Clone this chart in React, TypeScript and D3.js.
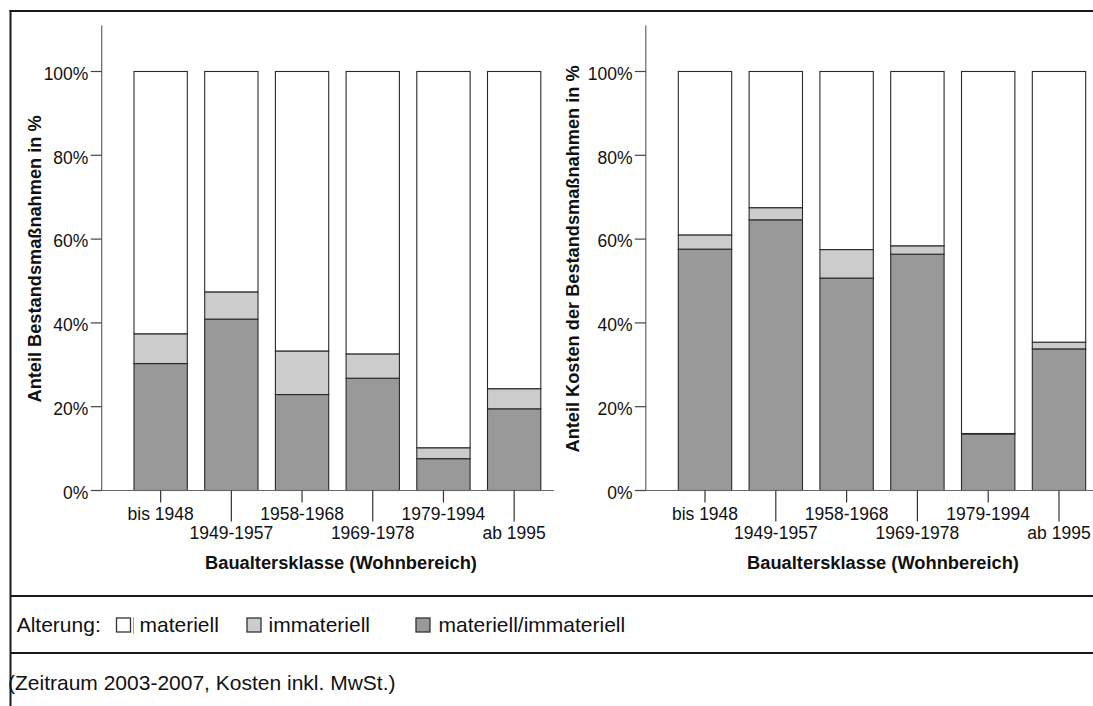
import React from 'react';
import * as d3 from 'd3';

const categories = ['bis 1948', '1949-1957', '1958-1968', '1969-1978', '1979-1994', 'ab 1995'];
// Left chart: Anteil Bestandsmaßnahmen in %
const leftMatImmat = [30.3, 40.9, 22.9, 26.8, 7.6, 19.5];
const leftImmat = [7.1, 6.5, 10.4, 5.8, 2.6, 4.8];
const leftMat = [62.6, 52.6, 66.7, 67.4, 89.8, 75.7];
// Right chart: Anteil Kosten der Bestandsmaßnahmen in %
const rightMatImmat = [57.6, 64.6, 50.7, 56.4, 13.5, 33.8];
const rightImmat = [3.4, 2.9, 6.8, 2.0, 0.1, 1.6];
const rightMat = [39.0, 32.5, 42.5, 41.6, 86.4, 64.6];
const yTicks = [0, 20, 40, 60, 80, 100];
const seriesKeys = ['matImmat', 'immat', 'mat'];
const legendLabels = ['materiell', 'immateriell', 'materiell/immateriell'];
const leftTitle = 'Anteil Bestandsmaßnahmen in %';
const rightTitle = 'Anteil Kosten der Bestandsmaßnahmen in %';
const xTitle = 'Baualtersklasse (Wohnbereich)';

const FONT = "'Liberation Sans', Arial, Helvetica, sans-serif";
const COLORS: Record<string, string> = { matImmat: '#999999', immat: '#cccccc', mat: '#ffffff' };

type ChartProps = {
  axisX: number;
  axisEnd: number;
  bandRange: [number, number];
  padding: number;
  matImmat: number[];
  immat: number[];
  mat: number[];
  yTitle: string;
  yTitleX: number;
  xTitleX: number;
};

function Chart(p: ChartProps) {
  const y = d3.scaleLinear().domain([0, 111]).range([490.5, 25.4]);
  const x = d3
    .scaleBand<string>()
    .domain(categories)
    .range(p.bandRange)
    .paddingInner(p.padding)
    .paddingOuter(p.padding / 2);
  const rows = categories.map((c, i) => ({
    cat: c,
    matImmat: p.matImmat[i],
    immat: p.immat[i],
    mat: p.mat[i],
  }));
  const stacked = d3.stack<any>().keys(seriesKeys)(rows);
  const y0 = y(0);
  const yTop = y(111);
  return (
    <g>
      {stacked.map((s) => (
        <g key={s.key}>
          {s.map((d, i) => {
            const top = y(d[1]);
            const bot = y(d[0]);
            return (
              <rect
                key={i}
                x={x(categories[i])!}
                y={top}
                width={x.bandwidth()}
                height={Math.max(0, bot - top)}
                fill={COLORS[s.key]}
                stroke="#2a2a2a"
                strokeWidth={1.1}
              />
            );
          })}
        </g>
      ))}
      {/* y axis */}
      <line x1={p.axisX} x2={p.axisX} y1={yTop} y2={y0} stroke="#666" strokeWidth={1.2} />
      {yTicks.map((t) => (
        <g key={t}>
          <line x1={p.axisX - 11} x2={p.axisX} y1={y(t)} y2={y(t)} stroke="#444" strokeWidth={1.2} />
          <text x={p.axisX - 13.3} y={y(t) + 8.3} textAnchor="end" fontSize={17.5} fontFamily={FONT} fill="#111">
            {t}%
          </text>
        </g>
      ))}
      {/* x axis */}
      <line x1={p.axisX} x2={p.axisEnd} y1={y0} y2={y0} stroke="#666" strokeWidth={1.2} />
      {categories.map((c, i) => {
        const cx = x(c)! + x.bandwidth() / 2;
        const long = i % 2 === 1;
        return (
          <g key={c}>
            <line x1={cx} x2={cx} y1={y0} y2={y0 + (long ? 31 : 12)} stroke="#333" strokeWidth={1.2} />
            <text x={cx} y={long ? 538.8 : 519.5} textAnchor="middle" fontSize={17.5} fontFamily={FONT} fill="#111">
              {c}
            </text>
          </g>
        );
      })}
      <text x={p.xTitleX} y={568.5} textAnchor="middle" fontSize={18.3} fontWeight="bold" fontFamily={FONT} fill="#111">
        {xTitle}
      </text>
      <text
        transform={`translate(${p.yTitleX},${(y0 + yTop) / 2 + 1}) rotate(-90)`}
        textAnchor="middle"
        fontSize={18.2}
        fontWeight="bold"
        fontFamily={FONT}
        fill="#111"
      >
        {p.yTitle}
      </text>
    </g>
  );
}

export default function App() {
  const legendItems = [
    { key: 'mat', label: legendLabels[0], bx: 116.5, tx: 139.5 },
    { key: 'immat', label: legendLabels[1], bx: 247, tx: 268.5 },
    { key: 'matImmat', label: legendLabels[2], bx: 416, tx: 438.5 },
  ];
  return (
    <svg
      width={1093}
      height={706}
      style={{ position: 'absolute', left: 0, top: 0, background: '#fff' }}
      fontFamily={FONT}
    >
      <rect x={0} y={0} width={1093} height={706} fill="#fff" />
      <Chart
        axisX={101.7}
        axisEnd={554}
        bandRange={[125.3, 549.5]}
        padding={0.246}
        matImmat={leftMatImmat}
        immat={leftImmat}
        mat={leftMat}
        yTitle={leftTitle}
        yTitleX={40.5}
        xTitleX={341}
      />
      <Chart
        axisX={645.8}
        axisEnd={1100}
        bandRange={[669.6, 1094.4]}
        padding={0.246}
        matImmat={rightMatImmat}
        immat={rightImmat}
        mat={rightMat}
        yTitle={rightTitle}
        yTitleX={578.5}
        xTitleX={883}
      />
      {/* frame */}
      <line x1={9.5} x2={1093} y1={11} y2={11} stroke="#1a1a1a" strokeWidth={2} />
      <line x1={10.5} x2={10.5} y1={10} y2={706} stroke="#1a1a1a" strokeWidth={2} />
      <line x1={10} x2={1093} y1={596} y2={596} stroke="#1a1a1a" strokeWidth={2} />
      <line x1={10} x2={1093} y1={653} y2={653} stroke="#1a1a1a" strokeWidth={2} />
      {/* legend */}
      <text x={16.7} y={632} fontSize={21} fontFamily={FONT} fill="#111">
        Alterung:
      </text>
      {legendItems.map((it) => (
        <g key={it.key}>
          <rect x={it.bx} y={618} width={14} height={14} fill={COLORS[it.key]} stroke="#333" strokeWidth={1.3} />
          <text x={it.tx} y={632} fontSize={21} fontFamily={FONT} fill="#111">
            {it.label}
          </text>
        </g>
      ))}
      <line x1={133.5} x2={133.5} y1={617} y2={634} stroke="#e08888" strokeWidth={1} />
      <text x={8} y={690} fontSize={21} fontFamily={FONT} fill="#111">
        (Zeitraum 2003-2007, Kosten inkl. MwSt.)
      </text>
    </svg>
  );
}
